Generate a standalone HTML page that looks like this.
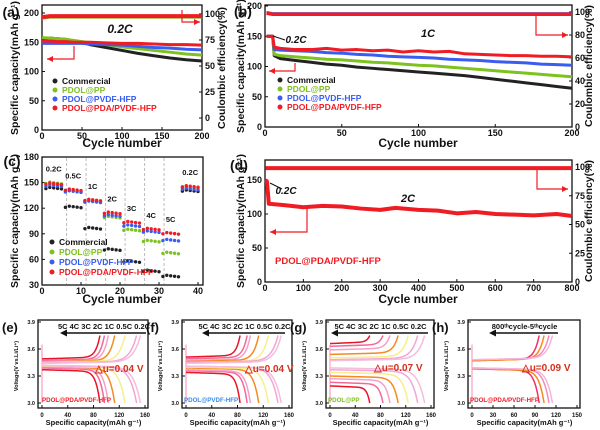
<!DOCTYPE html>
<html><head><meta charset="utf-8"><style>
html,body{margin:0;padding:0;background:#fff;}
svg{display:block;font-family:"Liberation Sans",Arial,sans-serif;font-weight:bold;}
</style></head><body>
<svg id="fig" width="600" height="430" viewBox="0 0 600 430" xmlns="http://www.w3.org/2000/svg"></svg>
<script>
// ---------- DATA ----------
const aCycles=[0,10,20,30,40,50,60,80,100,120,140,160,180,200];
const aComm=[155,157,156,155,152,150,146,141,136,131,127,123,120,118];
const aPP=[158,157,156,155,153,151,149,146,142,139,136,133,130,128];
const aPVDF=[148,148,148,148,148,148,147,146,145,143,141,140,138,137];
const aPDA=[152,152,151,151,150,150,150,149,148,148,147,146,146,145];
const aCE=[97,98,98,98,98,98,98,98,98,98,98,98,98,98];
const bCycles=[1,5,6,10,20,30,40,50,60,70,80,90,100,110,120,130,140,150,160,170,180,190,200];
const bComm=[150,150,118,113,110,107,104,102,99,97,95,93,91,89,87,85,82,79,76,73,70,67,64];
const bPP=[150,150,120,118,116,114,112,111,109,107,106,104,102,101,99,97,95,93,91,89,87,85,83];
const bPVDF=[150,150,128,127,126,125,123,122,120,119,117,116,115,114,112,111,110,108,107,106,104,103,102];
const bPDA=[150,150,132,130,128,128,130,127,128,126,127,124,126,124,125,121,120,119,118,118,117,117,116];
const bCE=[99,98,98,98,98,98,98,98,98,98,98,98,98,98,98,98,98,98,98,98,98,98,98];
const cRates=["0.2C","0.5C","1C","2C","3C","4C","5C","0.2C"];
const cComm=[145,123,98,73,59,48,42,142];
const cPP=[151,142,130,111,96,83,69,146];
const cPVDF=[148,141,129,113,101,94,84,144];
const cPDA=[150,143,131,116,105,97,92,147];
const dCycles=[1,5,10,50,100,150,200,250,300,340,400,450,500,550,600,650,700,760,800];
const dCap=[150,148,115,113,110,112,111,108,106,109,106,105,101,103,100,99,98,100,97];
const dCE=[99,99,99,99,99,99,99,99,99,99,99,99,99,99,99,99,99,99,99];
const vRates=["5C","4C","3C","2C","1C","0.5C","0.2C"];
const vColors=["#e8142a","#f06a9a","#f5a0c8","#f58a1f","#f7ef8a","#f2a6d6","#f5bcdc"];
const eCap=[90,97,103,113,129,147,153];
const eVc=[3.49,3.47,3.46,3.455,3.45,3.445,3.44];
const eVd=[3.37,3.39,3.40,3.405,3.41,3.415,3.42];
const fCap=[84,95,100,113,128,143,148];
const fVc=[3.51,3.49,3.47,3.46,3.45,3.45,3.44];
const fVd=[3.34,3.36,3.37,3.39,3.40,3.41,3.41];
const gCap=[63,84,95,108,124,139,150];
const gVc=[3.66,3.63,3.59,3.54,3.50,3.48,3.47];
const gVd=[3.19,3.23,3.27,3.30,3.34,3.37,3.39];
const hCap=[96,103,110,115];
const hVc=[3.47,3.47,3.48,3.48];
const hVd=[3.38,3.38,3.39,3.39];
const hColors=["#f0306a","#f58a1f","#f48cc0","#f5b5d8"];

// ---------- helpers ----------
const S="http://www.w3.org/2000/svg", svg=document.getElementById('fig');
function el(tag,attrs,parent,txt){const e=document.createElementNS(S,tag);for(const k in attrs)e.setAttribute(k,attrs[k]);if(txt!==undefined)e.textContent=txt;(parent||svg).appendChild(e);return e;}
function lin(p0,p1,d0,d1){return v=>p0+(v-d0)*(p1-p0)/(d1-d0);}
function txt(x,y,s,size,opts){opts=opts||{};const t=el('text',{x:x,y:y,'font-size':size,fill:opts.fill||'#111','text-anchor':opts.anchor||'middle','font-style':opts.italic?'italic':'normal'},opts.g,s);if(opts.rot)t.setAttribute('transform',`rotate(${opts.rot} ${x} ${y})`);return t;}
function box(x0,y0,x1,y1){el('rect',{x:x0,y:y0,width:x1-x0,height:y1-y0,fill:'none',stroke:'#111','stroke-width':1.3});}
function xTicks(sx,ticks,y,size){ticks.forEach(v=>{el('line',{x1:sx(v),x2:sx(v),y1:y,y2:y-3,stroke:'#111'});txt(sx(v),y+9,String(v),size||9);});}
function yTicksL(sy,ticks,x,size){ticks.forEach(v=>{el('line',{x1:x,x2:x+3,y1:sy(v),y2:sy(v),stroke:'#111'});txt(x-3,sy(v)+3,String(v),size||9,{anchor:'end'});});}
function yTicksR(sy,ticks,x,size){ticks.forEach(v=>{el('line',{x1:x,x2:x-3,y1:sy(v),y2:sy(v),stroke:'#111'});txt(x+3,sy(v)+3,String(v),size||9,{anchor:'start'});});}
function series(xs,ys,sx,sy,color,name,w){
  const g=el('g',{});
  
  
  el('polyline',{points:xs.map((x,i)=>sx(x)+','+sy(ys[i])).join(' '),fill:'none',stroke:color,'stroke-width':w||3,'stroke-linejoin':'round'},g);
  return g;
}
function arrow(pts,color,dir){el('polyline',{points:pts.map(p=>p.join(',')).join(' '),fill:'none',stroke:color,'stroke-width':1.2});const [x,y]=pts[pts.length-1];
  const d=dir==='left'?`M${x},${y} l6,-3 l0,6 z`:`M${x},${y} l-6,-3 l0,6 z`;el('path',{d:d,fill:color});}
function legend(x,y,dy,items,size){items.forEach((it,i)=>{el('circle',{cx:x,cy:y+i*dy-3,r:2.5,fill:it[1]});txt(x+7,y+i*dy,it[0],size||9,{anchor:'start',fill:it[2]||it[1]});});}
const K='#222',G='#7dc21e',B='#3a5cf0',R='#f01c24';

// ---------- (a) ----------
{const sx=lin(42,202,0,200),sy=lin(130,13,0,200),sc=lin(118,14,0,100);
box(42,5,202,130);
xTicks(sx,[0,50,100,150,200],130);yTicksL(sy,[0,50,100,150,200],42);yTicksR(sc,[0,25,50,75,100],202);
[[aComm,K,'commercial-capacity-a'],[aPP,G,'pp-capacity-a'],[aPVDF,B,'pvdf-capacity-a'],[aPDA,R,'pda-capacity-a']].forEach(s=>series(aCycles,s[0],sx,sy,s[1],s[2],3));
series(aCycles,aCE.map(v=>v-1),sx,sc,G,'pp-ce-a',3);series(aCycles,aCE,sx,sc,R,'pda-ce-a',4);
arrow([[74,46],[74,59],[47,59]],R,'left');arrow([[182,10],[182,22],[200,22]],R,'right');
txt(120,33,'0.2C',12,{italic:true});
legend(55,84,9,[['Commercial',K,'#111'],['PDOL@PP',G],['PDOL@PVDF-HFP',B],['PDOL@PDA/PVDF-HFP',R]],8.5);
txt(11,17,'(a)',14,{});
txt(18,68,'Specific capacity(mAh g⁻¹)',10.5,{rot:-90});
txt(225,68,'Coulombic efficiency(%)',10.5,{rot:-90});
txt(122,147,'Cycle number',12);}

// ---------- (b) ----------
{const sx=lin(265,572,0,200),sy=lin(127,6,0,200),sc=lin(127,12,0,100);
box(265,5,572,127);
xTicks(sx,[0,50,100,150,200],127);yTicksL(sy,[0,50,100,150,200],265);yTicksR(sc,[0,20,40,60,80,100],572);
[[bComm,K,'commercial-capacity-b'],[bPP,G,'pp-capacity-b'],[bPVDF,B,'pvdf-capacity-b'],[bPDA,R,'pda-capacity-b']].forEach(s=>series(bCycles,s[0],sx,sy,s[1],s[2],3));
series(bCycles,bCE.map(v=>v+1),sx,sc,B,'pvdf-ce-b',2);series(bCycles,bCE,sx,sc,R,'pda-ce-b',3.5);
arrow([[295,63],[295,71],[269,71]],R,'left');arrow([[536,16],[536,35],[568,35]],R,'right');
el('line',{x1:273,y1:36,x2:285,y2:40,stroke:'#111'});
txt(296,43,'0.2C',10,{italic:true});txt(428,37,'1C',11,{italic:true});
legend(280,83,9,[['Commercial',K,'#111'],['PDOL@PP',G],['PDOL@PVDF-HFP',B],['PDOL@PDA/PVDF-HFP',R]],8.5);
txt(234,16,'(b)',14,{anchor:'start'});
txt(244,66,'Specific capacity(mAh g⁻¹)',10.5,{rot:-90});
txt(592,66,'Coulombic efficiency(%)',10.5,{rot:-90});
txt(418,147,'Cycle number',12);}

// ---------- (c) ----------
{const sx=lin(42,198,0,40),sy=lin(285,157,30,180);
box(42,157,203,285);
xTicks(sx,[0,10,20,30,40],285);yTicksL(sy,[30,60,90,120,150,180],42);
for(let i=1;i<7;i++){const xv=sx(i*5+1.3);el('line',{x1:xv,x2:xv,y1:158,y2:284,stroke:'#bbb','stroke-dasharray':'3,2'});}
[[cComm,K,'commercial-rate'],[cPP,G,'pp-rate'],[cPVDF,B,'pvdf-rate'],[cPDA,R,'pda-rate']].forEach(s=>{
  const g=el('g',{});
  s[0].forEach((v,i)=>{for(let k=0;k<5;k++){const cyc=i*5+k+1;el('circle',{cx:sx(cyc),cy:sy(v+(k===0?-2:0)-k*0.6),r:1.7,fill:s[1]},g);}});});
cRates.forEach((r,i)=>{const top=Math.max(cComm[i],cPP[i],cPVDF[i],cPDA[i]);txt(sx(i*5+3),sy(top)-10,r,7.5);});
legend(52,245,10,[['Commercial',K,'#111'],['PDOL@PP',G],['PDOL@PVDF-HFP',B],['PDOL@PDA/PVDF-HFP',R]],8.5);
txt(12,166,'(c)',14,{});
txt(18,221,'Specific capacity(mAh g⁻¹)',10.5,{rot:-90});}

// ---------- (d) ----------
{const sx=lin(265,572,0,800),sy=lin(282,180,0,150),sc=lin(282,167,0,100);
box(265,160,572,282);
xTicks(sx,[0,100,200,300,400,500,600,700,800],282);yTicksL(sy,[0,50,100,150],265);yTicksR(sc,[0,25,50,75,100],572);
series(dCycles,dCap,sx,sy,R,'pda-capacity-d',4);
series(dCycles,dCE,sx,sc,R,'pda-ce-d',4);
arrow([[307,208],[307,232],[270,232]],R,'left');arrow([[537,170],[537,189],[568,189]],R,'right');
el('line',{x1:270,y1:183,x2:282,y2:189,stroke:'#111'});
txt(286,194,'0.2C',10,{italic:true});txt(408,202,'2C',11,{italic:true});
txt(275,264,'PDOL@PDA/PVDF-HFP',9.5,{anchor:'start',fill:R});
txt(230,170,'(d)',14,{anchor:'start'});
txt(244,221,'Specific capacity(mAh g⁻¹)',10.5,{rot:-90});
txt(592,221,'Coulombic efficiency(%)',10.5,{rot:-90});
txt(418,303,'Cycle number',12);
txt(122,303,'Cycle number',12);}

// ---------- voltage panels ----------
function vPanel(o){
  const sx=lin(o.x0,o.x1,0,o.xmax),sy=lin(403,322,3.0,3.9);
  const bx1=o.bx1||o.x1+3;
  box(o.x0-4,320,bx1,408);
  xTicks(sx,o.xt,408,6);
  [3.0,3.3,3.6,3.9].forEach(v=>{txt(o.x0-7,sy(v)+2,v.toFixed(1),5.5,{anchor:'end'});el('line',{x1:o.x0-4,x2:o.x0-1,y1:sy(v),y2:sy(v),stroke:'#111'});});
  el('line',{x1:sx(0),x2:sx(0),y1:sy(3.0),y2:sy(3.65),stroke:'#f5a0c8','stroke-width':1.2});
  o.caps.forEach((cap,i)=>{
    const g=el('g',{});
    let pc=[],pd=[];
    for(let k=0;k<=40;k++){const f=k/40,q=cap*f;
      pc.push(sx(q)+','+sy(o.vc[i]+0.02*f+(3.75-o.vc[i]-0.02)*Math.pow(f,14)));
      pd.push(sx(q)+','+sy(o.vd[i]-0.02*f-(o.vd[i]-0.02-3.0)*Math.pow(f,14)));}
    el('polyline',{points:pc.join(' '),fill:'none',stroke:o.colors[i],'stroke-width':1.5},g);
    el('polyline',{points:pd.join(' '),fill:'none',stroke:o.colors[i],'stroke-width':1.5},g);
  });
  el('line',{x1:o.ax1,x2:o.ax0,y1:333,y2:333,stroke:'#111','stroke-width':1.5});
  el('path',{d:`M${o.ax0-2},333 l7,-3.5 l0,7 z`,fill:'#111'});
  txt((o.ax0+o.ax1)/2,329,o.head,7.5,{});
  txt(o.dx,o.dy,o.delta,10,{anchor:'start',fill:'#d2301e'});
  txt(o.lx,402,o.legend,6.2,{anchor:'start',fill:o.lc});
  txt(o.x0-40,332,o.tag,13,{anchor:'start'});
  txt(o.x0-24,366,'Voltage(V vs.Li/Li⁺)',5.5,{rot:-90});
  txt((o.x0+o.x1)/2,425,'Specific capacity(mAh g⁻¹)',7.5,{});
}
vPanel({name:'e',x0:42,x1:145,xmax:160,xt:[0,40,80,120,160],caps:eCap,vc:eVc,vd:eVd,colors:vColors,labels:vRates,ax0:62,ax1:146,head:'5C 4C 3C 2C 1C 0.5C 0.2C',dx:95,dy:372,delta:'△u=0.04 V',legend:'PDOL@PDA/PVDF-HFP',lx:42,lc:'#f01c24',tag:'(e)'});
vPanel({name:'f',x0:186,x1:289,xmax:160,xt:[0,40,80,120,160],caps:fCap,vc:fVc,vd:fVd,colors:vColors,labels:vRates,ax0:204,ax1:285,head:'5C 4C 3C 2C 1C 0.5C 0.2C',dx:245,dy:372,delta:'△u=0.04 V',legend:'PDOL@PVDF-HFP',lx:184,lc:'#3a8ae8',tag:'(f)'});
vPanel({name:'g',x0:330,x1:431,xmax:160,xt:[0,40,80,120,160],caps:gCap,vc:gVc,vd:gVd,colors:vColors,labels:vRates,ax0:333,ax1:428,head:'5C 4C 3C 2C 1C 0.5C 0.2C',dx:374,dy:371,delta:'△u=0.07 V',legend:'PDOL@PP',lx:328,lc:'#7dc21e',tag:'(g)'});
vPanel({name:'h',x0:472,x1:577,xmax:150,xt:[0,30,60,90,120,150],caps:hCap,vc:hVc,vd:hVd,colors:hColors,labels:['800','600','300','5'],ax0:491,ax1:558,head:'800ᵗʰcycle-5ᵗʰcycle',dx:522,dy:371,delta:'△u=0.09 V',legend:'PDOL@PDA/PVDF-HFP',lx:470,lc:'#f01c24',tag:'(h)',bx1:580});
</script>
</body></html>
